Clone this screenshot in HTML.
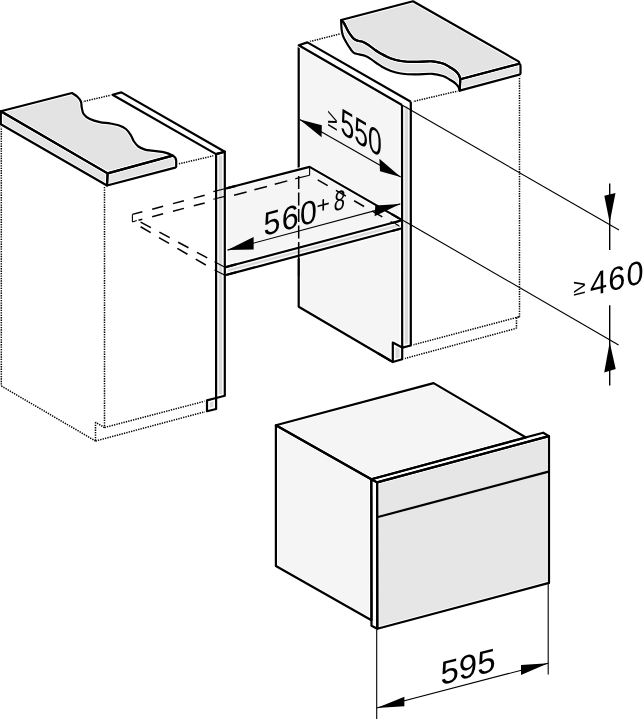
<!DOCTYPE html>
<html><head><meta charset="utf-8"><style>
html,body{margin:0;padding:0;background:#fff;width:643px;height:719px;overflow:hidden}
svg{display:block;will-change:transform}
.th{stroke:#000;stroke-width:2.2;stroke-linejoin:round;fill:none}
.halo{stroke:#fff;stroke-width:4.2;stroke-linejoin:round}
.halo2{stroke:#fff;stroke-width:5.2;stroke-linejoin:round}
.thin{stroke:#000;stroke-width:1.1;fill:none}
.dot{stroke:#000;stroke-width:1.5;stroke-dasharray:1.35 1.1;fill:none}
.dash{stroke:#000;stroke-width:1.5;fill:none}
.mid{stroke:#000;stroke-width:1.6;fill:none}
.vl{stroke:#000;stroke-width:1.4;fill:none}
.dd{stroke:#000;stroke-width:1.1;stroke-dasharray:12 4;fill:none}
text{font-family:"Liberation Sans",sans-serif;fill:#000}
</style></head><body>
<svg width="643" height="719" viewBox="0 0 643 719">
<line x1="1.30" y1="126.00" x2="1.30" y2="386.00" class="dot"/>
<line x1="1.30" y1="386.00" x2="95.50" y2="441.00" class="dot"/>
<line x1="104.50" y1="187.00" x2="104.50" y2="427.50" class="dot"/>
<line x1="104.50" y1="427.50" x2="95.50" y2="422.20" class="dot"/>
<line x1="95.50" y1="422.20" x2="95.50" y2="441.00" class="dot"/>
<line x1="104.50" y1="427.50" x2="207.00" y2="400.60" class="dot"/>
<line x1="95.50" y1="441.00" x2="207.00" y2="411.20" class="dot"/>
<line x1="82.00" y1="101.80" x2="112.50" y2="94.80" class="dot"/>
<line x1="176.50" y1="164.40" x2="216.00" y2="155.20" class="dot"/>
<line x1="307.40" y1="42.20" x2="341.20" y2="33.60" class="dot"/>
<line x1="402.50" y1="104.00" x2="459.70" y2="90.60" class="dot"/>
<line x1="519.50" y1="75.50" x2="519.50" y2="316.70" class="dot"/>
<line x1="519.50" y1="316.70" x2="516.50" y2="317.70" class="dot"/>
<line x1="516.50" y1="317.70" x2="516.50" y2="328.30" class="dot"/>
<line x1="410.80" y1="345.50" x2="519.50" y2="316.70" class="dot"/>
<line x1="402.20" y1="359.20" x2="516.50" y2="328.30" class="dot"/>
<path d="M298.70,45.20 L402.00,105.00 L402.00,347.40 L392.80,342.60 L392.80,362.00 L298.70,306.80 Z" fill="#f5f5f5" class="halo"/>
<path d="M298.70,45.20 L402.00,105.00 L402.00,347.40 L392.80,342.60 L392.80,362.00 L298.70,306.80 Z" class="th"/>
<path fill="#f5f5f5" class="halo" d="M225.00,188.70 L309.60,166.90 L401.30,219.60 L401.30,220.50 L225.00,267.30 Z"/>
<path fill="#dadada" class="halo2" d="M225.00,267.30 L401.30,220.50 L401.30,228.50 L225.00,275.20 Z"/>
<line x1="298.7" y1="176" x2="298.7" y2="244" class="dash" stroke-dasharray="13 3.5"/>
<line x1="309.60" y1="166.90" x2="309.60" y2="175.20" class="thin"/>
<line x1="309.60" y1="175.20" x2="295.70" y2="178.60" class="thin"/>
<line x1="295.70" y1="178.60" x2="225.00" y2="197.80" class="dash" stroke-dasharray="13.00 8.10" stroke-dashoffset="12.40"/>
<line x1="309.60" y1="175.20" x2="392.00" y2="222.50" class="dash" stroke-dasharray="11.50 9.50" stroke-dashoffset="11.66"/>
<line x1="394.70" y1="223.30" x2="401.30" y2="227.20" class="thin"/>
<line x1="132.40" y1="214.40" x2="215.00" y2="192.50" class="dash" stroke-dasharray="11.30 10.20" stroke-dashoffset="1.02"/>
<line x1="138.50" y1="220.30" x2="215.00" y2="200.20" class="dash" stroke-dasharray="11.30 10.20" stroke-dashoffset="7.34"/>
<line x1="132.40" y1="214.40" x2="132.40" y2="222.00" class="thin"/>
<line x1="132.40" y1="222.00" x2="136.80" y2="220.60" class="thin"/>
<line x1="136.80" y1="220.10" x2="214.50" y2="261.70" class="dash" stroke-dasharray="11.70 9.60" stroke-dashoffset="16.99"/>
<line x1="140.50" y1="226.70" x2="214.50" y2="270.10" class="dash" stroke-dasharray="11.70 9.60" stroke-dashoffset="21.18"/>
<polyline class="th" fill="none" points="225,188.7 309.6,166.9 401.3,219.6"/>
<line x1="225.00" y1="267.30" x2="401.30" y2="220.50" class="th"/>
<line x1="225.00" y1="275.20" x2="401.30" y2="228.50" class="th"/>
<line x1="298.70" y1="244.00" x2="298.70" y2="276.00" class="mid"/>
<path d="M112.50,94.80 L121.40,92.40 L224.80,151.70 L216.10,154.10 Z" fill="#fff" class="halo"/>
<path d="M216.10,154.10 L224.80,151.70 L224.80,395.70 L216.10,398.00 Z" fill="#dadada" class="halo2"/>
<path d="M207.00,400.40 L216.10,398.00 L216.10,409.00 L207.00,411.20 Z" fill="#dadada" class="halo2"/>
<path d="M112.50,94.80 L121.40,92.40 L224.80,151.70 L216.10,154.10 Z" class="th"/>
<path d="M216.10,154.10 L224.80,151.70 L224.80,395.70 L216.10,398.00 Z" class="th"/>
<path d="M207.00,400.40 L216.10,398.00 L216.10,409.00 L207.00,411.20 Z" class="th"/>
<line x1="213.30" y1="191.60" x2="224.80" y2="188.70" class="thin"/>
<line x1="213.30" y1="199.30" x2="224.80" y2="196.40" class="thin"/>
<line x1="214.50" y1="261.70" x2="225.00" y2="267.30" class="thin"/>
<line x1="214.50" y1="270.10" x2="225.00" y2="275.20" class="thin"/>
<line x1="224.80" y1="267.35" x2="236.00" y2="264.40" class="th"/>
<line x1="224.80" y1="275.25" x2="236.00" y2="272.30" class="th"/>
<line x1="224.80" y1="188.75" x2="236.00" y2="185.90" class="th"/>
<path d="M0.8,111.3 L72,93  C72.90,93.62 75.92,95.28 77.40,96.70 C78.88,98.12 80.17,99.63 80.90,101.50 C81.63,103.37 81.33,105.80 81.80,107.90 C82.27,110.00 82.35,112.23 83.70,114.10 C85.05,115.97 87.22,117.75 89.90,119.10 C92.58,120.45 96.48,121.48 99.80,122.20 C103.12,122.92 106.68,122.88 109.80,123.40 C112.92,123.92 115.82,124.37 118.50,125.30 C121.18,126.23 123.83,127.33 125.90,129.00 C127.97,130.67 129.55,133.22 130.90,135.30 C132.25,137.38 132.75,139.63 134.00,141.50 C135.25,143.37 136.57,145.15 138.40,146.50 C140.23,147.85 142.73,148.90 145.00,149.60 C147.27,150.30 149.13,150.32 152.00,150.70 C154.87,151.08 159.45,151.42 162.20,151.90 C164.95,152.38 166.77,152.98 168.50,153.60 C170.23,154.22 171.92,155.27 172.60,155.60 L107.6,173.4 Z" fill="#e3e3e3" class="halo"/>
<path d="M0.80,111.30 L107.60,173.40 L107.00,185.50 L0.80,124.20 Z" fill="#e3e3e3" class="halo"/>
<path d="M107.6,173.4 L172.6,155.6 Q176.2,157.4 176.2,161 L176.2,166.5 Q176.2,167.3 175.2,167.6 L107,185.5 Z" fill="#e3e3e3" class="halo"/>
<path d="M0.8,111.3 L72,93  C72.90,93.62 75.92,95.28 77.40,96.70 C78.88,98.12 80.17,99.63 80.90,101.50 C81.63,103.37 81.33,105.80 81.80,107.90 C82.27,110.00 82.35,112.23 83.70,114.10 C85.05,115.97 87.22,117.75 89.90,119.10 C92.58,120.45 96.48,121.48 99.80,122.20 C103.12,122.92 106.68,122.88 109.80,123.40 C112.92,123.92 115.82,124.37 118.50,125.30 C121.18,126.23 123.83,127.33 125.90,129.00 C127.97,130.67 129.55,133.22 130.90,135.30 C132.25,137.38 132.75,139.63 134.00,141.50 C135.25,143.37 136.57,145.15 138.40,146.50 C140.23,147.85 142.73,148.90 145.00,149.60 C147.27,150.30 149.13,150.32 152.00,150.70 C154.87,151.08 159.45,151.42 162.20,151.90 C164.95,152.38 166.77,152.98 168.50,153.60 C170.23,154.22 171.92,155.27 172.60,155.60 L107.6,173.4 Z" class="th"/>
<path d="M0.80,111.30 L107.60,173.40 L107.00,185.50 L0.80,124.20 Z" class="th"/>
<path d="M107.6,173.4 L172.6,155.6 Q176.2,157.4 176.2,161 L176.2,166.5 Q176.2,167.3 175.2,167.6 L107,185.5 Z" class="th"/>
<path d="M341.20,20.00 C341.63,20.47 342.85,21.33 343.80,22.80 C344.75,24.27 345.87,26.90 346.90,28.80 C347.93,30.70 348.83,32.52 350.00,34.20 C351.17,35.88 352.60,37.80 353.90,38.90 C355.20,40.00 356.25,40.28 357.80,40.80 C359.35,41.32 361.38,41.28 363.20,42.00 C365.02,42.72 366.75,43.80 368.70,45.10 C370.65,46.40 372.83,48.37 374.90,49.80 C376.97,51.23 378.42,52.25 381.10,53.70 C383.78,55.15 387.70,57.28 391.00,58.50 C394.30,59.72 396.90,60.43 400.90,61.00 C404.90,61.57 409.77,61.85 415.00,61.90 C420.23,61.95 427.63,61.03 432.30,61.30 C436.97,61.57 440.08,62.52 443.00,63.50 C445.92,64.48 447.73,65.98 449.80,67.20 C451.87,68.42 453.88,69.50 455.40,70.80 C456.92,72.10 458.08,73.60 458.90,75.00 C459.72,76.40 460.07,78.50 460.30,79.20 L459.7,90.7  C459.52,90.13 459.32,88.53 458.60,87.30 C457.88,86.07 456.87,84.57 455.40,83.30 C453.93,82.03 451.87,80.92 449.80,79.70 C447.73,78.48 445.92,76.98 443.00,76.00 C440.08,75.02 436.97,74.07 432.30,73.80 C427.63,73.53 420.23,74.45 415.00,74.40 C409.77,74.35 404.90,74.07 400.90,73.50 C396.90,72.93 394.15,72.13 391.00,71.00 C387.85,69.87 384.43,68.03 382.00,66.70 C379.57,65.37 378.23,64.27 376.40,63.00 C374.57,61.73 372.82,60.27 371.00,59.10 C369.18,57.93 367.45,56.78 365.50,56.00 C363.55,55.22 361.23,54.92 359.30,54.40 C357.37,53.88 355.45,53.93 353.90,52.90 C352.35,51.87 351.30,50.02 350.00,48.20 C348.70,46.38 347.27,44.07 346.10,42.00 C344.93,39.93 343.73,37.80 343.00,35.80 C342.27,33.80 341.98,31.80 341.70,30.00 C341.42,28.20 341.38,26.67 341.30,25.00 C341.22,23.33 341.22,20.83 341.20,20.00 Z" fill="#e3e3e3" class="halo"/>
<path d="M341.2,20 L413,1.3 L517.6,60.9 Q520.5,62.6 518.4,64 L460.3,79.2  C460.07,78.50 459.72,76.40 458.90,75.00 C458.08,73.60 456.92,72.10 455.40,70.80 C453.88,69.50 451.87,68.42 449.80,67.20 C447.73,65.98 445.92,64.48 443.00,63.50 C440.08,62.52 436.97,61.57 432.30,61.30 C427.63,61.03 420.23,61.95 415.00,61.90 C409.77,61.85 404.90,61.57 400.90,61.00 C396.90,60.43 394.30,59.72 391.00,58.50 C387.70,57.28 383.78,55.15 381.10,53.70 C378.42,52.25 376.97,51.23 374.90,49.80 C372.83,48.37 370.65,46.40 368.70,45.10 C366.75,43.80 365.02,42.72 363.20,42.00 C361.38,41.28 359.35,41.32 357.80,40.80 C356.25,40.28 355.20,40.00 353.90,38.90 C352.60,37.80 351.17,35.88 350.00,34.20 C348.83,32.52 347.93,30.70 346.90,28.80 C345.87,26.90 344.75,24.27 343.80,22.80 C342.85,21.33 341.63,20.47 341.20,20.00 Z" fill="#e3e3e3" class="halo"/>
<path d="M460.3,79.2 L518.4,64 Q520.5,63.6 520.5,66 L520.5,73.3 Q520.5,74.3 519.3,74.6 L459.6,90.6 Z" fill="#e3e3e3" class="halo"/>
<path d="M341.20,20.00 C341.63,20.47 342.85,21.33 343.80,22.80 C344.75,24.27 345.87,26.90 346.90,28.80 C347.93,30.70 348.83,32.52 350.00,34.20 C351.17,35.88 352.60,37.80 353.90,38.90 C355.20,40.00 356.25,40.28 357.80,40.80 C359.35,41.32 361.38,41.28 363.20,42.00 C365.02,42.72 366.75,43.80 368.70,45.10 C370.65,46.40 372.83,48.37 374.90,49.80 C376.97,51.23 378.42,52.25 381.10,53.70 C383.78,55.15 387.70,57.28 391.00,58.50 C394.30,59.72 396.90,60.43 400.90,61.00 C404.90,61.57 409.77,61.85 415.00,61.90 C420.23,61.95 427.63,61.03 432.30,61.30 C436.97,61.57 440.08,62.52 443.00,63.50 C445.92,64.48 447.73,65.98 449.80,67.20 C451.87,68.42 453.88,69.50 455.40,70.80 C456.92,72.10 458.08,73.60 458.90,75.00 C459.72,76.40 460.07,78.50 460.30,79.20 L459.7,90.7  C459.52,90.13 459.32,88.53 458.60,87.30 C457.88,86.07 456.87,84.57 455.40,83.30 C453.93,82.03 451.87,80.92 449.80,79.70 C447.73,78.48 445.92,76.98 443.00,76.00 C440.08,75.02 436.97,74.07 432.30,73.80 C427.63,73.53 420.23,74.45 415.00,74.40 C409.77,74.35 404.90,74.07 400.90,73.50 C396.90,72.93 394.15,72.13 391.00,71.00 C387.85,69.87 384.43,68.03 382.00,66.70 C379.57,65.37 378.23,64.27 376.40,63.00 C374.57,61.73 372.82,60.27 371.00,59.10 C369.18,57.93 367.45,56.78 365.50,56.00 C363.55,55.22 361.23,54.92 359.30,54.40 C357.37,53.88 355.45,53.93 353.90,52.90 C352.35,51.87 351.30,50.02 350.00,48.20 C348.70,46.38 347.27,44.07 346.10,42.00 C344.93,39.93 343.73,37.80 343.00,35.80 C342.27,33.80 341.98,31.80 341.70,30.00 C341.42,28.20 341.38,26.67 341.30,25.00 C341.22,23.33 341.22,20.83 341.20,20.00 Z" class="th"/>
<path d="M341.2,20 L413,1.3 L517.6,60.9 Q520.5,62.6 518.4,64 L460.3,79.2  C460.07,78.50 459.72,76.40 458.90,75.00 C458.08,73.60 456.92,72.10 455.40,70.80 C453.88,69.50 451.87,68.42 449.80,67.20 C447.73,65.98 445.92,64.48 443.00,63.50 C440.08,62.52 436.97,61.57 432.30,61.30 C427.63,61.03 420.23,61.95 415.00,61.90 C409.77,61.85 404.90,61.57 400.90,61.00 C396.90,60.43 394.30,59.72 391.00,58.50 C387.70,57.28 383.78,55.15 381.10,53.70 C378.42,52.25 376.97,51.23 374.90,49.80 C372.83,48.37 370.65,46.40 368.70,45.10 C366.75,43.80 365.02,42.72 363.20,42.00 C361.38,41.28 359.35,41.32 357.80,40.80 C356.25,40.28 355.20,40.00 353.90,38.90 C352.60,37.80 351.17,35.88 350.00,34.20 C348.83,32.52 347.93,30.70 346.90,28.80 C345.87,26.90 344.75,24.27 343.80,22.80 C342.85,21.33 341.63,20.47 341.20,20.00 Z" class="th"/>
<path d="M460.3,79.2 L518.4,64 Q520.5,63.6 520.5,66 L520.5,73.3 Q520.5,74.3 519.3,74.6 L459.6,90.6 Z" class="th"/>
<path d="M298.70,45.20 L307.40,42.40 L410.80,101.70 L402.00,105.00 Z" fill="#fff" class="halo"/>
<path d="M402.00,105.00 L410.80,101.70 L410.80,345.50 L402.20,347.60 Z" fill="#dadada" class="halo2"/>
<path d="M392.80,342.60 L402.20,347.40 L402.20,359.30 L392.80,362.00 Z" fill="#dadada" class="halo2"/>
<path d="M402,105 L298.7,45.2 L307.4,42.4 L410.8,101.7" class="th"/>
<path d="M410.8,101.7 L410.8,345.5 L402.2,347.6 L402,105" class="th"/>
<path d="M392.80,342.60 L402.20,347.40 L402.20,359.30 L392.80,362.00 Z" class="th"/>
<line x1="401.30" y1="219.60" x2="410.80" y2="224.70" class="thin"/>
<line x1="392.00" y1="214.25" x2="402.20" y2="220.10" class="th"/>
<line x1="392.00" y1="223.00" x2="402.20" y2="220.30" class="th"/>
<line x1="392.00" y1="231.00" x2="402.20" y2="228.30" class="th"/>
<line x1="378.00" y1="353.30" x2="392.80" y2="362.00" class="th"/>
<line x1="299.70" y1="119.40" x2="400.70" y2="176.90" class="thin"/>
<path fill="#000" d="M299.70,119.40 L321.80,125.20 L321.60,137.30 Z"/>
<path fill="#000" d="M400.70,176.90 L379.40,158.80 L380.00,171.30 Z"/>
<line x1="402.00" y1="105.00" x2="619.00" y2="230.00" class="thin"/>
<line x1="410.80" y1="224.70" x2="618.60" y2="345.00" class="thin"/>
<line x1="609.70" y1="183.50" x2="609.70" y2="250.00" class="vl"/>
<line x1="609.70" y1="305.20" x2="609.70" y2="385.60" class="vl"/>
<path fill="#000" d="M604.30,195.80 L615.50,192.90 L609.70,222.60 Z"/>
<path fill="#000" d="M604.20,372.50 L615.70,369.00 L609.70,342.20 Z"/>
<line x1="227.50" y1="250.10" x2="400.30" y2="203.90" class="thin"/>
<path fill="#000" d="M227.50,250.10 L253.60,237.00 L253.60,249.60 Z"/>
<path fill="#000" d="M400.30,203.90 L375.30,205.60 L374.60,216.30 Z"/>
<path d="M275.90,425.30 L433.60,383.10 L526.00,437.50 L371.30,479.20 Z" fill="#f5f5f5" class="halo"/>
<path d="M275.90,425.30 L371.30,479.20 L371.50,620.30 L275.90,566.00 Z" fill="#f5f5f5" class="halo"/>
<path d="M371.30,479.20 L543.20,432.70 L549.00,436.10 L377.10,482.40 Z" fill="#fff" class="halo"/>
<path d="M371.30,479.20 L377.10,482.40 L377.30,628.80 L371.50,625.80 Z" fill="#fff" class="halo"/>
<path d="M377.10,482.40 L549.00,436.10 L549.00,582.90 L377.30,628.80 Z" fill="#e6e6e6" class="halo"/>
<path d="M275.90,425.30 L433.60,383.10 L526.00,437.50 L371.30,479.20 Z" class="th"/>
<path d="M275.90,425.30 L371.30,479.20 L371.50,620.30 L275.90,566.00 Z" class="th"/>
<path d="M371.30,479.20 L543.20,432.70 L549.00,436.10 L377.10,482.40 Z" class="th"/>
<path d="M371.30,479.20 L377.10,482.40 L377.30,628.80 L371.50,625.80 Z" class="th"/>
<path d="M377.10,482.40 L549.00,436.10 L549.00,582.90 L377.30,628.80 Z" class="th"/>
<line x1="378.00" y1="517.00" x2="548.50" y2="471.60" class="th"/>
<line x1="376.70" y1="630.00" x2="376.70" y2="719.00" class="thin"/>
<line x1="548.20" y1="584.00" x2="548.20" y2="674.40" class="thin"/>
<line x1="376.70" y1="708.00" x2="548.20" y2="663.20" class="thin"/>
<path fill="#000" d="M376.70,708.00 L404.40,696.80 L404.40,706.30 Z"/>
<path fill="#000" d="M548.20,663.20 L521.00,665.00 L521.00,675.00 Z"/>
<text transform="matrix(1,-0.264,0,1,440.5,685.2)" font-size="33">595</text>
<text transform="matrix(0.75,0.45,0,1.05,327.5,125.2)" font-size="24">&#8805;</text>
<text transform="matrix(0.75,0.45,0,1.125,340.5,133.1)" font-size="33">550</text>
<text transform="matrix(0.92,-0.244,0,1,263.5,236)" font-size="33" letter-spacing="1.5">560</text>
<text transform="matrix(1,-0.265,0,1,316.5,214.3)" font-size="23">+</text>
<text transform="matrix(0.72,-0.19,-0.08,1,333.2,211.5)" font-size="28">8</text>
<text transform="matrix(1,-0.25,0,1.05,573.2,296)" font-size="22.5">&#8805;</text>
<text transform="matrix(0.93,-0.2325,0,1,590,296.2)" font-size="33" letter-spacing="1.3">460</text>
</svg>
</body></html>
